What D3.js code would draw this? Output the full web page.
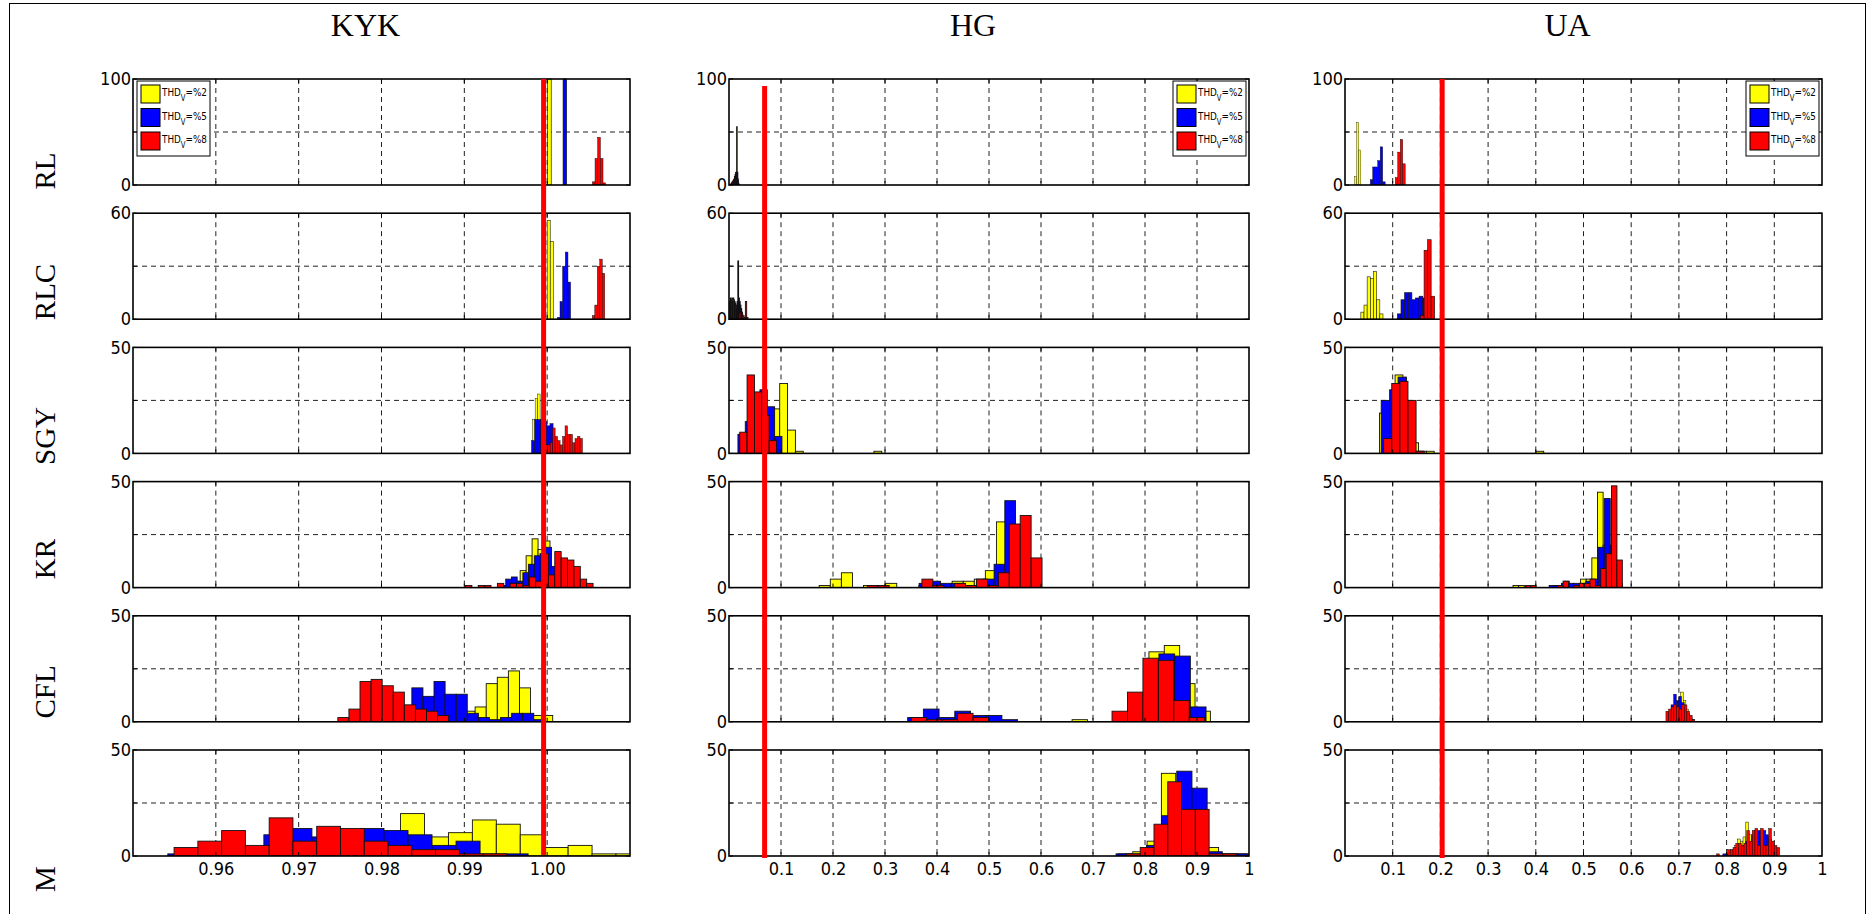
<!DOCTYPE html>
<html><head><meta charset="utf-8">
<script src="https://cdn.jsdelivr.net/npm/d3@7"></script>
<style>body{margin:0;background:#fff} svg{display:block}</style>
</head><body><svg id="c" width="1872" height="914"></svg>
<script>
// ---------------- data ----------------
const columns = ["KYK", "HG", "UA"];
const rowLabels = ["RL", "RLC", "SGY", "KR", "CFL", "M"];
const legendLevels = ["%2", "%5", "%8"];
const yMax = [100, 60, 50, 50, 50, 50];
const xDomains = [[0.95, 1.01], [0, 1], [0, 1]];
const xTicksKYK = [0.96, 0.97, 0.98, 0.99, 1.00];
const xTicksUnit = [0.1, 0.2, 0.3, 0.4, 0.5, 0.6, 0.7, 0.8, 0.9, 1];
const refLineX = [0.99957, 0.0685, 0.2037];

// histogram per row: [firstBinStart, binWidth, counts]
const KYK_THD2 = [
  [1.00006, 0.00043, [100]],
  [1.0000, 0.00037, [56, 44]],
  [0.99825, 0.0003, [16, 26, 28, 14, 9, 5, 2]],
  [0.9953, 0.00072, [1, 3, 8, 15, 23, 18, 22, 9]],
  [0.98729, 0.001338, [1, 2, 5, 7, 18, 21, 24, 16, 3, 3]],
  [0.97074, 0.00289, [1, 2, 3, 4, 20, 9, 11, 17, 15, 10, 4, 5, 1, 1]]
];
const KYK_THD5 = [
  [1.00192, 0.00043, [100]],
  [1.00123, 0.00032, [1, 10, 30, 38, 21]],
  [0.99812, 0.00037, [6, 16, 16, 16, 15, 13, 14, 4]],
  [0.99431, 0.00069, [1, 4, 5, 3, 7, 11, 15, 16, 19, 10, 6, 3]],
  [0.97965, 0.001338, [1, 3, 5, 16, 12, 19, 13, 13, 4, 2, 1, 2, 4, 4, 1]],
  [0.9542, 0.0029, [1, 2, 3, 4, 10, 13, 9, 10, 13, 12, 10, 5, 7, 1, 1]]
];
const KYK_THD8 = [
  [1.00546, 0.00032, [3, 25, 45, 25, 2]],
  [1.00545, 0.0003, [2, 8, 30, 34, 26]],
  [0.99946, 0.0003, [2, 4, 4, 5, 12, 8, 6, 4, 8, 13, 9, 9, 5, 7, 8, 7]],
  [0.99014, 0.00077, [1, 0, 1, 1, 0, 2, 0, 2, 2, 1, 5, 3, 16, 6, 17, 14, 13, 10, 4, 2]],
  [0.97473, 0.001338, [2, 6, 19, 20, 17, 14, 8, 6, 5, 3]],
  [0.95496, 0.00287, [4, 7, 12, 5, 18, 7, 14, 13, 7, 5, 3, 3, 1, 1]]
];
const HG_THD2 = [
  [0.0134, 0.0012, [10, 55, 12, 4]],
  [0.0014, 0.0013, [10, 12, 11, 12, 10, 12, 11, 10, 9, 8, 6, 5, 3, 2, 1]],
  [0.0522, 0.0151, [14, 18, 21, 33, 11, 1, 0, 0, 0, 0, 0, 0, 0, 0, 0, 1]],
  [0.1735, 0.0213, [1, 4, 7, 0, 1, 1, 2, 0, 0, 1, 1, 1, 3, 3, 4, 8, 31, 20, 10, 2]],
  [0.6598, 0.02955, [1, 0, 0, 2, 5, 33, 36, 18, 5]],
  [0.749, 0.0275, [1, 2, 7, 39, 25, 20, 4, 1, 1]]
];
const HG_THD5 = [
  [0.008, 0.0012, [3, 5, 8, 10, 12, 12, 10, 6]],
  [0.014, 0.0015, [6, 10, 33, 12, 10, 8, 6, 4]],
  [0.0172, 0.0141, [9, 15, 18, 30, 22, 8]],
  [0.3656, 0.0206, [2, 3, 2, 2, 1, 1, 4, 11, 41, 25, 8]],
  [0.3436, 0.0302, [2, 6, 2, 5, 3, 3, 1, 0, 0, 0, 0, 0, 0, 0, 3, 5, 32, 31, 7]],
  [0.7443, 0.0292, [1, 1, 5, 19, 40, 32, 2, 1, 1]]
];
const HG_THD8 = [
  [0.003, 0.0014, [1, 2, 3, 4, 5, 6, 6, 5, 4, 3, 2, 1]],
  [0.019, 0.0025, [3, 4, 3, 2, 1, 10, 1]],
  [0.0206, 0.01416, [10, 37, 29, 18, 6]],
  [0.266, 0.021, [1, 1, 0, 0, 0, 4, 1, 0, 2, 1, 4, 1, 7, 30, 34, 14]],
  [0.3505, 0.0297, [2, 1, 1, 4, 2, 0, 0, 0, 0, 0, 0, 0, 0, 5, 14, 30, 29, 10, 2]],
  [0.7643, 0.0265, [1, 4, 15, 35, 22, 22, 1, 1]]
];
const UA_THD2 = [
  [0.0199, 0.0044, [8, 59, 33]],
  [0.0332, 0.00663, [4, 8, 24, 23, 27, 11, 3]],
  [0.0722, 0.0164, [19, 15, 37, 20, 5, 1, 1, 0, 0, 0, 0, 0, 0, 0, 0, 0, 0, 0, 0, 0, 1]],
  [0.3523, 0.0118, [1, 1, 0, 0, 0, 0, 0, 1, 0, 3, 1, 0, 4, 4, 14, 45, 20, 5]],
  [0.6816, 0.0055, [2, 4, 6, 9, 14, 10, 6, 3, 1]],
  [0.7996, 0.0058, [1, 2, 3, 5, 8, 7, 9, 16, 10, 8, 9, 7, 6, 4, 2]]
];
const UA_THD5 = [
  [0.053, 0.0052, [5, 17, 17, 23, 36, 3]],
  [0.1098, 0.0076, [3, 11, 15, 15, 11, 12, 13, 12, 8]],
  [0.0759, 0.0177, [25, 30, 36, 8, 1]],
  [0.4281, 0.0128, [1, 1, 2, 2, 2, 2, 3, 4, 19, 42, 20, 2]],
  [0.678, 0.0055, [5, 8, 13, 10, 12, 9, 6, 4, 2, 1]],
  [0.7922, 0.006, [1, 1, 0, 2, 3, 4, 4, 5, 7, 6, 10, 12, 12, 12, 12, 10, 8, 5, 2]]
];
const UA_THD8 = [
  [0.1054, 0.0052, [7, 31, 43, 20]],
  [0.1584, 0.0074, [2, 39, 45, 13]],
  [0.081, 0.017, [7, 33, 34, 25, 1]],
  [0.378, 0.0113, [1, 1, 0, 0, 0, 0, 1, 3, 0, 1, 2, 2, 4, 1, 9, 16, 48, 13]],
  [0.6728, 0.0055, [5, 6, 7, 8, 7, 6, 8, 8, 5, 3, 1]],
  [0.779, 0.00575, [1, 0, 0, 0, 3, 3, 4, 6, 6, 5, 6, 12, 7, 12, 13, 5, 13, 5, 5, 13, 7, 5, 4]]
];

// ---------------- drawing ----------------
const hist = [
  [KYK_THD2, KYK_THD5, KYK_THD8],
  [HG_THD2, HG_THD5, HG_THD8],
  [UA_THD2, UA_THD5, UA_THD8]
];
const seriesColors = ["#ffff00", "#0000ff", "#ff0000"];
const narrow = "'Liberation Sans Narrow','Arial Narrow','DejaVu Sans Condensed',sans-serif";
const serif = "'Liberation Serif','Times New Roman',serif";

const svg = d3.select("#c");
svg.append("rect").attr("width", 1872).attr("height", 914).attr("fill", "#fff");
svg.append("rect").attr("x", 9.5).attr("y", 3.5).attr("width", 1856).attr("height", 930)
  .attr("fill", "none").attr("stroke", "#000").attr("stroke-width", 1);

const colX = [[133, 630], [729, 1249], [1345, 1822]];
const rowTop = r => 79 + r * 134.2;
const rowH = 106;
const defs = svg.append("defs");

// row labels (rotated)
const rowLabelY = [171, 292, 436, 559, 692, 879];
rowLabels.forEach((lab, r) => {
  svg.append("text")
    .attr("transform", `translate(55,${rowLabelY[r]}) rotate(-90)`)
    .attr("text-anchor", "middle")
    .attr("font-family", serif).attr("font-size", 29)
    .text(lab);
});

columns.forEach((title, c) => {
  const x = d3.scaleLinear().domain(xDomains[c]).range(colX[c]);
  const ticks = c === 0 ? xTicksKYK : xTicksUnit;
  const fmt = c === 0 ? d3.format(".2f") : (d => d === 1 ? "1" : d3.format(".1f")(d));
  const [x0, x1] = colX[c];

  svg.append("text").attr("x", (x0 + x1) / 2 - 16).attr("y", 36)
    .attr("text-anchor", "middle").attr("font-family", serif).attr("font-size", 32)
    .text(title);

  rowLabels.forEach((_, r) => {
    const top = rowTop(r), bottom = top + rowH;
    const y = d3.scaleLinear().domain([0, yMax[r]]).range([bottom, top]);
    const g = svg.append("g");
    const clipId = `clip${c}_${r}`;
    defs.append("clipPath").attr("id", clipId).append("rect")
      .attr("x", x0).attr("y", top - 1).attr("width", x1 - x0).attr("height", rowH + 1);

    g.append("rect").attr("x", x0).attr("y", top).attr("width", x1 - x0).attr("height", rowH).attr("fill", "#fff");

    // grid
    const gridTicks = ticks.filter(t => t > xDomains[c][0] + 1e-9 && t < xDomains[c][1] - 1e-9);
    g.selectAll(".vg").data(gridTicks).join("line")
      .attr("x1", d => x(d)).attr("x2", d => x(d)).attr("y1", top).attr("y2", bottom)
      .attr("stroke", "#222").attr("stroke-width", 1).attr("stroke-dasharray", "5,4");
    g.append("line").attr("x1", x0).attr("x2", x1).attr("y1", y(yMax[r] / 2)).attr("y2", y(yMax[r] / 2))
      .attr("stroke", "#222").attr("stroke-width", 1).attr("stroke-dasharray", "5,4");

    // bars
    const bg = g.append("g").attr("clip-path", `url(#${clipId})`);
    hist[c].forEach((series, s) => {
      const [start, w, counts] = series[r];
      const bins = counts.map((n, i) => ({ a: start + i * w, b: start + (i + 1) * w, n })).filter(d => d.n > 0);
      bg.append("g").selectAll("rect").data(bins).join("rect")
        .attr("x", d => x(d.a)).attr("width", d => Math.max(0.5, x(d.b) - x(d.a)))
        .attr("y", d => y(d.n)).attr("height", d => y(0) - y(d.n))
        .attr("fill", seriesColors[s]).attr("stroke", "#111")
        .attr("stroke-width", d => {
          const pw = x(d.b) - x(d.a);
          return pw < 1.5 ? 0.9 : Math.min(0.9, Math.max(0.35, pw * 0.18));
        });
    });

    // ticks (inward)
    g.selectAll(".tb").data(gridTicks).join("line")
      .attr("x1", d => x(d)).attr("x2", d => x(d)).attr("y1", bottom).attr("y2", bottom - 4)
      .attr("stroke", "#000");
    g.selectAll(".tt").data(gridTicks).join("line")
      .attr("x1", d => x(d)).attr("x2", d => x(d)).attr("y1", top).attr("y2", top + 4)
      .attr("stroke", "#000");
    [0, yMax[r] / 2, yMax[r]].forEach(v => {
      g.append("line").attr("x1", x0).attr("x2", x0 + 4).attr("y1", y(v)).attr("y2", y(v)).attr("stroke", "#000");
      g.append("line").attr("x1", x1).attr("x2", x1 - 4).attr("y1", y(v)).attr("y2", y(v)).attr("stroke", "#000");
    });

    // box
    g.append("rect").attr("x", x0).attr("y", top).attr("width", x1 - x0).attr("height", rowH)
      .attr("fill", "none").attr("stroke", "#000").attr("stroke-width", 1.6);

    // y tick labels
    const ya = g.append("g").attr("transform", `translate(${x0},0)`)
      .call(d3.axisLeft(y).tickValues([0, yMax[r]]).tickSize(0).tickPadding(2));
    ya.select(".domain").remove();
    ya.selectAll("text").attr("font-family", narrow).attr("font-size", 18).attr("fill", "#000");

    // x tick labels on last row
    if (r === rowLabels.length - 1) {
      const xa = g.append("g").attr("transform", `translate(0,${bottom})`)
        .call(d3.axisBottom(x).tickValues(ticks).tickFormat(fmt).tickSize(0).tickPadding(6));
      xa.select(".domain").remove();
      xa.selectAll("text").attr("font-family", narrow).attr("font-size", 18).attr("fill", "#000");
    }

    // legend on first row
    if (r === 0) {
      const lw = 73, lh = 75;
      const lx = c === 0 ? x0 + 4 : x1 - 3 - lw;
      const ly = top + 2;
      const lg = g.append("g").attr("transform", `translate(${lx},${ly})`);
      lg.append("rect").attr("width", lw).attr("height", lh).attr("fill", "#fff")
        .attr("stroke", "#000").attr("stroke-width", 1);
      legendLevels.forEach((lev, i) => {
        lg.append("rect").attr("x", 4).attr("y", 4 + i * 23.5).attr("width", 19).attr("height", 18)
          .attr("fill", seriesColors[i]).attr("stroke", "#000").attr("stroke-width", 1);
        const t = lg.append("text").attr("x", 25).attr("y", 15 + i * 23.5)
          .attr("font-family", narrow).attr("font-size", 11)
          .attr("textLength", 45).attr("lengthAdjust", "spacingAndGlyphs");
        t.append("tspan").text("THD");
        t.append("tspan").attr("font-size", 8.5).attr("dy", 5).text("V");
        t.append("tspan").attr("dy", -5).text("=" + lev);
      });
    }
  });
});

// red reference lines across all rows of each column
const refY = [[79, 855], [86, 858], [79, 858]];
refLineX.forEach((v, c) => {
  const x = d3.scaleLinear().domain(xDomains[c]).range(colX[c]);
  svg.append("line").attr("x1", x(v)).attr("x2", x(v)).attr("y1", refY[c][0]).attr("y2", refY[c][1])
    .attr("stroke", "#ff0000").attr("stroke-width", 5);
});
</script></body></html>
